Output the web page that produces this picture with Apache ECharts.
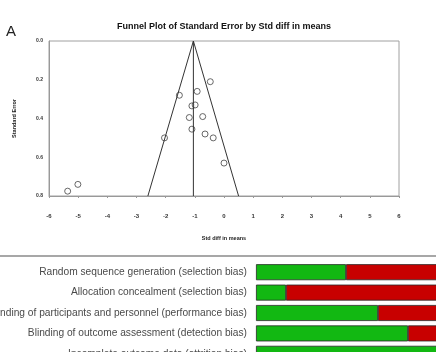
<!DOCTYPE html>
<html>
<head>
<meta charset="utf-8">
<script src="https://cdn.jsdelivr.net/npm/echarts@6/dist/echarts.min.js"></script>
<style>
  html, body { margin: 0; padding: 0; background: #fff; }
  #main { width: 436px; height: 352px; }
</style>
</head>
<body>
<div id="main"></div>
<script>
// funnel plot studies: [std diff in means, standard error]
var studies = [
  [-0.47, 0.21], [-0.92, 0.26], [-1.53, 0.28], [-1.10, 0.335], [-0.99, 0.33],
  [-1.19, 0.395], [-0.73, 0.39], [-1.10, 0.455], [-0.65, 0.48], [-0.37, 0.50],
  [-2.04, 0.50], [0.00, 0.63], [-5.01, 0.74], [-5.36, 0.775]
];
// funnel outline (left foot, apex, right foot) and centre line
var funnelX = [-2.61, -1.05, 0.50];
var funnelY = [0.8, 0.0, 0.8];
var centreX = [-1.05, -1.05];
var centreY = [0.0, 0.8];

// risk of bias summary
var domains = [
  'Random sequence generation (selection bias)',
  'Allocation concealment (selection bias)',
  'Blinding of participants and personnel (performance bias)',
  'Blinding of outcome assessment (detection bias)',
  'Incomplete outcome data (attrition bias)'
];
var lowRisk = [45, 15, 61, 76, 100];
var highRisk = [55, 85, 39, 24, 0];

var font = 'Liberation Sans, Arial, sans-serif';
var chart = echarts.init(document.getElementById('main'));

var funnelLine = funnelX.map(function (x, i) { return [x, funnelY[i]]; });
var centreLine = centreX.map(function (x, i) { return [x, centreY[i]]; });

var option = {
  animation: false,
  backgroundColor: '#fff',
  title: [
    {
      text: 'A', left: 6, top: 24, padding: 0,
      textStyle: { fontFamily: font, fontSize: 15, fontWeight: 'normal', color: '#222' }
    },
    {
      text: 'Funnel Plot of Standard Error by Std diff in means', left: 224, top: 22, padding: 0, textAlign: 'center',
      textStyle: { fontFamily: font, fontSize: 9, fontWeight: 'bold', color: '#111' }
    }
  ],
  graphic: [
    { type: 'line', shape: { x1: 0, y1: 256, x2: 436, y2: 256 }, style: { stroke: '#8a8a8a', lineWidth: 1.5 } }
  ],
  grid: [
    { left: 49, right: 37, top: 41, bottom: 156, show: true, borderColor: '#a0a0a0', borderWidth: 1, outerBoundsMode: 'none' },
    { left: 256, right: -20, top: 262, bottom: -12, outerBoundsMode: 'none' }
  ],
  xAxis: [
    {
      gridIndex: 0, type: 'value', min: -6, max: 6, interval: 1,
      name: 'Std diff in means', nameLocation: 'middle', nameGap: 39,
      nameTextStyle: { fontFamily: font, fontSize: 5.5, fontWeight: 'bold', color: '#222' },
      axisLine: { onZero: false, lineStyle: { color: '#999' } },
      axisTick: { length: 2, lineStyle: { color: '#999' } },
      axisLabel: { margin: 17, fontFamily: font, fontSize: 6, fontWeight: 'bold', color: '#333' },
      splitLine: { show: false }
    },
    {
      gridIndex: 1, type: 'value', min: 0, max: 100, show: false
    }
  ],
  yAxis: [
    {
      gridIndex: 0, type: 'value', inverse: true, min: 0, max: 0.8, interval: 0.2,
      name: 'Standard Error', nameLocation: 'middle', nameGap: 32,
      nameTextStyle: { fontFamily: font, fontSize: 5.5, fontWeight: 'bold', color: '#222' },
      axisLine: { show: true, onZero: false, lineStyle: { color: '#999' } },
      axisTick: { show: false },
      axisLabel: {
        margin: 6, fontFamily: font, fontSize: 5, fontWeight: 'bold', color: '#333',
        formatter: function (v) { return v.toFixed(1); }
      },
      splitLine: { show: false }
    },
    {
      gridIndex: 1, type: 'category', inverse: true, data: domains,
      axisLine: { show: false }, axisTick: { show: false },
      axisLabel: { margin: 9, fontFamily: font, fontSize: 10.2, color: '#4a4a4a' }
    }
  ],
  series: [
    {
      type: 'line', xAxisIndex: 0, yAxisIndex: 0, data: funnelLine, symbol: 'none',
      lineStyle: { color: '#333', width: 1 }
    },
    {
      type: 'line', xAxisIndex: 0, yAxisIndex: 0, data: centreLine, symbol: 'none',
      lineStyle: { color: '#333', width: 1 }
    },
    {
      type: 'scatter', xAxisIndex: 0, yAxisIndex: 0, data: studies, symbol: 'circle', symbolSize: 6,
      itemStyle: { color: '#fff', borderColor: '#444', borderWidth: 1 }
    },
    {
      type: 'bar', xAxisIndex: 1, yAxisIndex: 1, stack: 'rob', data: lowRisk, barWidth: 16,
      itemStyle: { color: '#12b812', borderColor: '#2a2a2a', borderWidth: 0.8 }
    },
    {
      type: 'bar', xAxisIndex: 1, yAxisIndex: 1, stack: 'rob', data: highRisk, barWidth: 16,
      itemStyle: { color: '#c80000', borderColor: '#2a2a2a', borderWidth: 0.8 }
    }
  ]
};

chart.setOption(option);
</script>
</body>
</html>
